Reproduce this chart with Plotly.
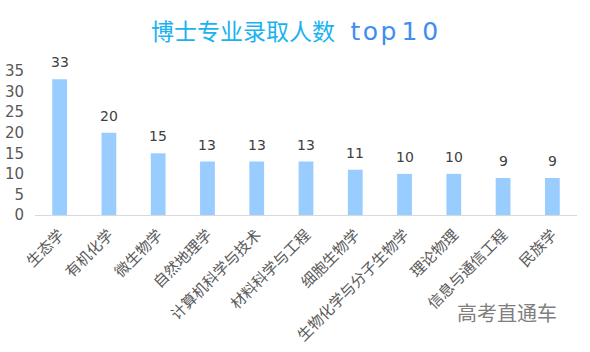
import plotly.graph_objects as go

categories = ["生态学", "有机化学", "微生物学", "自然地理学", "计算机科学与技术",
              "材料科学与工程", "细胞生物学", "生物化学与分子生物学", "理论物理",
              "信息与通信工程", "民族学"]
values = [33, 20, 15, 13, 13, 13, 11, 10, 10, 9, 9]
y_ticks = [0, 5, 10, 15, 20, 25, 30, 35]

font_cn = "Noto Sans CJK SC"

fig = go.Figure(go.Bar(
    x=categories, y=values,
    marker=dict(color="#99ccff", line=dict(width=0)),
    cliponaxis=False, width=0.3,
))

for c, v in zip(categories, values):
    fig.add_annotation(x=c, y=v, text=str(v), showarrow=False, yanchor="bottom",
                       yshift=7, font=dict(color="#404040", size=14, family="DejaVu Sans"))

fig.update_layout(
    width=590, height=352,
    margin=dict(l=35, r=13, t=71, b=137),
    paper_bgcolor="white", plot_bgcolor="white",
    showlegend=False,
    font=dict(family=font_cn, color="#595959"),
    xaxis=dict(tickangle=-45, tickfont=dict(size=15, color="#595959", family=font_cn),
               showline=True, linecolor="#d9d9d9", linewidth=1, showgrid=False,
               ticks="", ticklabelstandoff=4, automargin=False),
    yaxis=dict(range=[0, 35], tickvals=y_ticks, showgrid=False, zeroline=False,
               showline=False, ticklabelstandoff=10, automargin=False,
               tickfont=dict(size=15, color="#595959", family="DejaVu Sans")),
)

fig.add_annotation(
    text="<span style='color:#1ab2f0'>博士专业录取人数</span>&nbsp;&nbsp;&nbsp;"
         "<span style='color:#3d8ef0;font-family:DejaVu Sans;font-size:25px'>t&#8202;o&#8202;p&#8201;1&#8201;0</span>",
    x=(294 - 35) / 542, y=(215 - 30) / 144, xref="paper", yref="paper", showarrow=False,
    font=dict(size=23, family=font_cn), yanchor="middle", xanchor="center",
)

fig.add_annotation(
    text="高考直通车", x=(507 - 35) / 542, y=(215 - 312) / 144, xref="paper", yref="paper",
    showarrow=False, xanchor="center", yanchor="middle",
    font=dict(size=20, color="#7f7f7f", family=font_cn),
)

fig.write_html("out.html")
